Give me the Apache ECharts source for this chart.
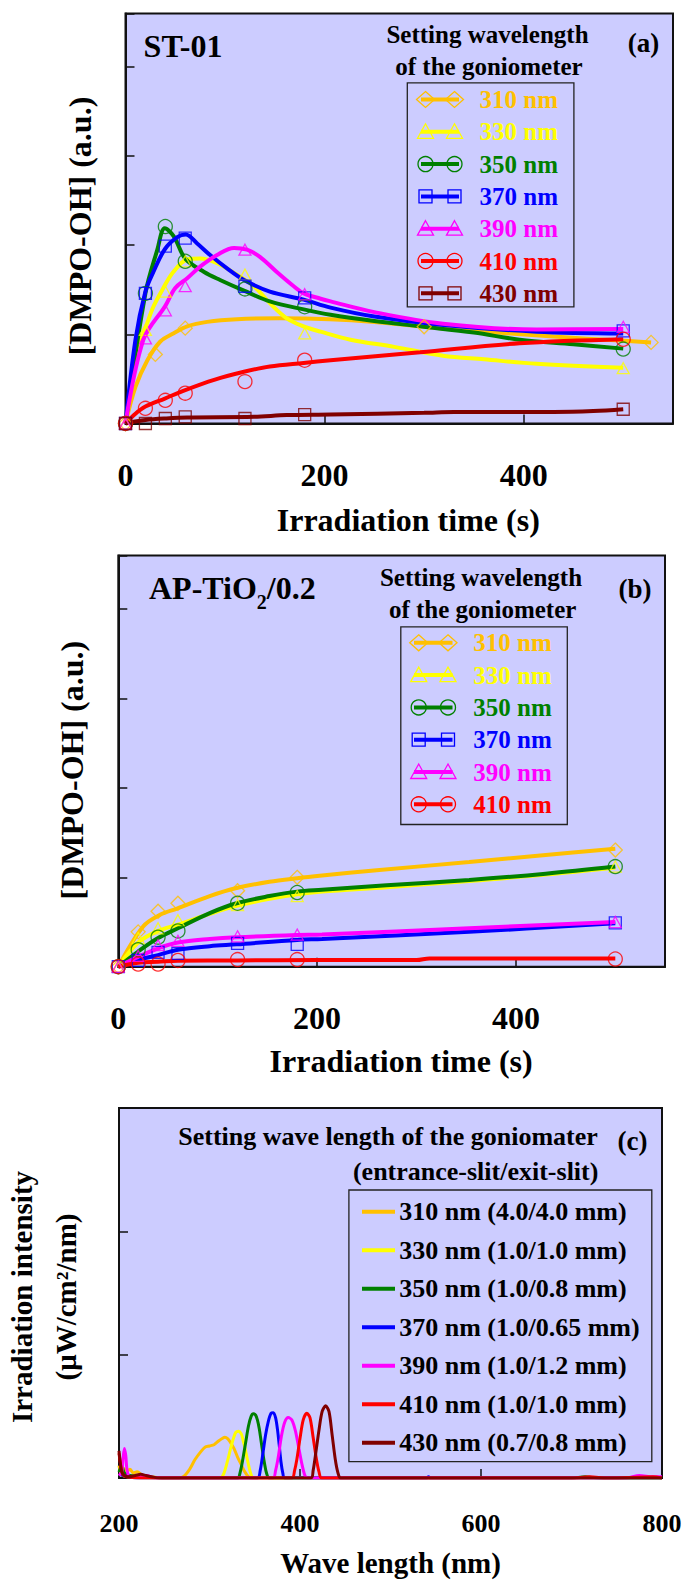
<!DOCTYPE html>
<html><head><meta charset="utf-8">
<script src="https://cdn.jsdelivr.net/npm/echarts@6/dist/echarts.min.js"></script>
<style>html,body{margin:0;padding:0;background:#fff}#c{width:683px;height:1580px}</style>
</head><body><div id="c"></div>
<script>
// ---------- labels ----------
const nmLabels = ['310 nm', '330 nm', '350 nm', '370 nm', '390 nm', '410 nm', '430 nm'];
const slitLabels = ['310 nm (4.0/4.0 mm)', '330 nm (1.0/1.0 mm)', '350 nm (1.0/0.8 mm)', '370 nm (1.0/0.65 mm)', '390 nm (1.0/1.2 mm)', '410 nm (1.0/1.0 mm)', '430 nm (0.7/0.8 mm)'];
const seriesColors = ['#FFC000', '#FFFF00', '#008000', '#0000FF', '#FF00FF', '#FF0000', '#800000'];
const seriesSymbols = ['diamond', 'triangle', 'circle', 'rect', 'triangle', 'circle', 'rect'];
const timeTicks = [0, 200, 400];
const waveTicks = [200, 400, 600, 800];

// ---------- (a) ST-01 : markers [time s, DMPO-OH a.u.] ----------
const a310Pts = [[0,0],[30,0.775],[60,1.07],[300,1.085],[528,0.91]];
const a330Pts = [[0,0],[20,1.05],[40,1.48],[60,1.82],[120,1.67],[180,1.01],[500,0.62]];
const a350Pts = [[0,0],[20,1.46],[40,2.21],[60,1.82],[120,1.51],[180,1.31],[500,0.835]];
const a370Pts = [[0,0],[20,1.46],[40,1.99],[60,2.08],[120,1.54],[180,1.41],[500,1.04]];
const a390Pts = [[0,0],[20,0.955],[40,1.27],[60,1.54],[120,1.95],[180,1.45],[500,1.085]];
const a410Pts = [[0,0],[20,0.17],[40,0.26],[60,0.34],[120,0.47],[180,0.71],[500,0.945]];
const a430Pts = [[0,0],[20,0],[40,0.056],[60,0.075],[120,0.056],[180,0.10],[500,0.16]];
// (a) fitted curves
const a310Fit = [[0,0],[10,0.41],[22,0.71],[35,0.92],[48,1.01],[62,1.09],[82,1.14],[112,1.17],[155,1.18],[205,1.17],[250,1.14],[300,1.085],[350,1.04],[430,0.975],[497,0.93],[528,0.91]];
const a330Fit = [[0,0],[12,0.82],[20,1.07],[28,1.31],[38,1.52],[48,1.70],[62,1.84],[75,1.85],[92,1.80],[109,1.69],[129,1.54],[145,1.35],[162,1.18],[179,1.09],[196,1.03],[226,0.94],[270,0.86],[319,0.76],[360,0.72],[413,0.67],[500,0.625]];
const a350Fit = [[0,0],[20,1.46],[32,1.95],[39.5,2.19],[48.5,2.10],[60,1.85],[79,1.70],[95,1.61],[119,1.49],[145,1.37],[179,1.28],[206,1.22],[250,1.15],[296,1.09],[350,1.02],[396,0.94],[450,0.89],[500,0.84]];
const a370Fit = [[0,0],[10,0.94],[20,1.48],[28,1.70],[39.5,1.955],[52,2.09],[60.5,2.12],[72,2.02],[85,1.89],[102,1.74],[119,1.61],[145,1.48],[179,1.39],[206,1.30],[250,1.20],[319,1.105],[413,1.03],[500,1.01]];
const a390Fit = [[0,0],[18,0.94],[40,1.32],[50,1.52],[62,1.63],[75,1.76],[92,1.89],[109,1.97],[122,1.95],[135,1.87],[152,1.70],[169,1.54],[179,1.46],[196,1.40],[206,1.37],[250,1.25],[319,1.12],[413,1.055],[500,1.06]];
const a410Fit = [[0,0],[10,0.11],[20,0.19],[39.5,0.28],[60,0.375],[89,0.49],[119,0.58],[145,0.64],[179,0.68],[206,0.71],[296,0.80],[396,0.90],[500,0.945]];
const a430Fit = [[0,0],[8,0.02],[20,0.04],[40,0.056],[62,0.067],[129,0.075],[162,0.094],[206,0.10],[300,0.12],[330,0.13],[430,0.13],[470,0.14],[500,0.16]];

// ---------- (b) AP-TiO2/0.2 : markers ----------
const b310Pts = [[0,0],[20,0.39],[40,0.62],[60,0.71],[120,0.85],[180,1.0],[500,1.305]];
const b330Pts = [[0,0],[20,0.32],[40,0.43],[60,0.52],[120,0.69],[180,0.79],[500,1.12]];
const b350Pts = [[0,0],[20,0.19],[40,0.33],[60,0.40],[120,0.71],[180,0.83],[500,1.12]];
const b370Pts = [[0,0],[20,0.07],[40,0.16],[60,0.15],[120,0.26],[180,0.25],[500,0.49]];
const b390Pts = [[0,0],[20,0.12],[40,0.24],[60,0.29],[120,0.34],[180,0.36],[500,0.50]];
const b410Pts = [[0,0],[20,0.03],[40,0.03],[60,0.07],[120,0.08],[180,0.08],[500,0.086]];
// (b) fitted curves
const b310Fit = [[0,0],[25,0.45],[42,0.58],[59,0.65],[92,0.79],[119,0.88],[152,0.95],[180,0.99],[205,1.02],[260,1.08],[353,1.17],[430,1.25],[500,1.32]];
const b330Fit = [[0,0],[20,0.27],[40,0.40],[60,0.47],[92,0.59],[119,0.68],[152,0.76],[180,0.81],[205,0.84],[270,0.89],[353,0.96],[430,1.03],[500,1.11]];
const b350Fit = [[0,0],[20,0.17],[40,0.32],[60,0.43],[92,0.60],[119,0.71],[152,0.79],[180,0.84],[205,0.86],[270,0.91],[353,0.97],[430,1.04],[500,1.12]];
const b370Fit = [[0,0],[20,0.075],[40,0.13],[60,0.19],[92,0.23],[119,0.25],[180,0.30],[205,0.31],[353,0.39],[500,0.485]];
const b390Fit = [[0,0],[20,0.11],[40,0.205],[60,0.27],[92,0.31],[119,0.33],[180,0.355],[205,0.36],[353,0.43],[500,0.50]];
const b410Fit = [[0,0],[20,0.045],[40,0.056],[60,0.067],[120,0.07],[200,0.075],[300,0.075],[313,0.093],[500,0.093]];

// ---------- (c) spectra [wavelength nm, intensity] ----------
const s310 = [[200,0.10],[202,0.04],[205,0.08],[208,0.05],[212,0.07],[216,0.04],[220,0.05],[226,0.02],[235,0.01],[250,0],[265,0],[271,0.01],[278,0.07],[284,0.15],[290,0.21],[295,0.25],[300,0.26],[305,0.27],[310,0.30],[314,0.32],[317,0.33],[320,0.32],[323,0.29],[327,0.24],[331,0.17],[335,0.11],[339,0.05],[343,0.01],[347,0],[500,0],[700,0],[800,0]];
const s330 = [[200,0.03],[210,0.01],[240,0],[312,0],[316,0.04],[320,0.14],[323,0.23],[326,0.31],[329,0.37],[332,0.38],[335,0.36],[337,0.31],[339,0.25],[341,0.18],[343,0.11],[345,0.05],[347,0.01],[350,0],[800,0]];
const s350 = [[200,0.05],[203,0.10],[206,0.04],[212,0.02],[230,0.01],[250,0],[331,0],[334,0.05],[337,0.16],[340,0.29],[343,0.42],[346,0.50],[348.5,0.52],[351,0.51],[353,0.47],[355,0.40],[357,0.30],[359,0.20],[361,0.11],[363,0.04],[366,0],[700,0],[715,0.01],[730,0],[800,0]];
const s370 = [[200,0.03],[220,0],[353,0],[356,0.06],[359,0.20],[362,0.35],[365,0.46],[368,0.525],[370.5,0.53],[373,0.49],[375,0.40],[377,0.27],[379,0.13],[381,0.04],[383,0],[540,0],[542,0.01],[544,0],[800,0]];
const s390 = [[200,0.02],[203,0.05],[204.5,0.16],[206,0.24],[207.5,0.18],[209,0.06],[212,0.01],[230,0.02],[240,0],[370,0],[373,0.06],[376,0.17],[379.5,0.34],[383,0.45],[387,0.49],[391,0.47],[395,0.38],[399,0.23],[402.5,0.10],[406,0.01],[409,0],[760,0],[775,0.02],[790,0.01],[800,0.01]];
const s410 = [[200,0.20],[202,0.10],[204,0.03],[208,0.01],[230,0],[391,0],[394,0.06],[396.5,0.15],[400,0.32],[403.5,0.47],[407.5,0.525],[411,0.49],[414.5,0.33],[418,0.16],[421,0.05],[424,0],[700,0],[720,0.01],[740,0],[790,0.01],[800,0]];
const s430 = [[200,0.22],[201.5,0.12],[203,0.05],[206,0.02],[210,0.01],[218,0.02],[224,0.03],[230,0.02],[236,0.01],[245,0],[412,0],[414.5,0.06],[417,0.18],[421,0.39],[424.5,0.54],[428.3,0.585],[432,0.54],[435.5,0.35],[439,0.15],[442,0.04],[445,0],[800,0]];

const aPts = [a310Pts, a330Pts, a350Pts, a370Pts, a390Pts, a410Pts, a430Pts];
const aFit = [a310Fit, a330Fit, a350Fit, a370Fit, a390Fit, a410Fit, a430Fit];
const bPts = [b310Pts, b330Pts, b350Pts, b370Pts, b390Pts, b410Pts];
const bFit = [b310Fit, b330Fit, b350Fit, b370Fit, b390Fit, b410Fit];
const spectra = [s310, s330, s350, s370, s390, s410, s430];

// ---------- styling ----------
const FF = '"Liberation Serif", "Times New Roman", serif';
const BG = '#CCCCFF';
const symSize = { diamond: [14, 14], triangle: [12, 11], circle: 14, rect: 12 };

function fontStr(size) { return 'bold ' + size + 'px ' + FF; }

function tStyle(txt, size, color, align) {
  return { text: txt, font: fontStr(size), fill: color || '#000', align: align || 'left', textAlign: align || 'left', verticalAlign: 'middle', textVerticalAlign: 'middle' };
}
function gText(txt, x, y, size, color, align) {
  return { type: 'text', x: x, y: y, z: 50, style: tStyle(txt, size, color, align) };
}
function markerShape(sym, cx, cy, color) {
  const st = { fill: 'none', stroke: color, lineWidth: 1.3 };
  if (sym === 'circle') return { type: 'circle', z: 52, shape: { cx: cx, cy: cy, r: 7.5 }, style: st };
  if (sym === 'rect') return { type: 'rect', z: 52, shape: { x: cx - 6.5, y: cy - 6.5, width: 13, height: 13 }, style: st };
  if (sym === 'triangle') return { type: 'polygon', z: 52, shape: { points: [[cx, cy - 8], [cx + 8, cy + 6.5], [cx - 8, cy + 6.5]] }, style: st };
  return { type: 'polygon', z: 52, shape: { points: [[cx, cy - 8], [cx + 9, cy], [cx, cy + 8], [cx - 9, cy]] }, style: st };
}
function legendBlock(cfg) {
  const els = [];
  els.push({ type: 'rect', z: 49, shape: { x: cfg.box[0], y: cfg.box[1], width: cfg.box[2] - cfg.box[0], height: cfg.box[3] - cfg.box[1] }, style: { fill: 'none', stroke: '#222', lineWidth: 1.3 } });
  for (let i = 0; i < cfg.n; i++) {
    const y = cfg.y0 + i * cfg.dy;
    const c = seriesColors[i];
    els.push({ type: 'line', z: 51, shape: { x1: cfg.line[0], y1: y, x2: cfg.line[1], y2: y }, style: { stroke: c, lineWidth: 4 } });
    if (cfg.marks) {
      els.push(markerShape(seriesSymbols[i], cfg.marks[0], y, c));
      els.push(markerShape(seriesSymbols[i], cfg.marks[1], y, c));
    }
    els.push(gText(cfg.labels[i], cfg.textX, y, cfg.fs, cfg.textColor || c, 'left'));
  }
  return els;
}

// ---------- axes ----------
function timeAxis(gi, gap, shift) {
  return {
    gridIndex: gi, type: 'value', min: 0, max: 550, interval: 200,
    axisLine: { show: true, onZero: false, lineStyle: { color: '#111', width: 2 } },
    axisTick: { show: true, inside: true, length: 9, lineStyle: { color: '#111', width: 1.5 } },
    axisLabel: { show: true, margin: 35, color: '#000', fontFamily: FF, fontWeight: 'bold', fontSize: 32,
      formatter: v => (timeTicks.indexOf(v) >= 0 ? String(v) : '') },
    splitLine: { show: false },
    name: 'Irradiation time (s)', nameLocation: 'middle', nameGap: gap,
    nameTextStyle: { color: '#000', fontFamily: FF, fontWeight: 'bold', fontSize: 32, padding: [0, 0, 0, shift] }
  };
}
function concAxis(gi, gap, shift) {
  return {
    gridIndex: gi, type: 'value', min: 0, max: 4.6, interval: 1,
    axisLine: { show: true, onZero: false, lineStyle: { color: '#111', width: 2 } },
    axisTick: { show: true, inside: true, length: 9, lineStyle: { color: '#111', width: 1.5 } },
    axisLabel: { show: false }, splitLine: { show: false },
    name: '[DMPO-OH] (a.u.)', nameLocation: 'middle', nameGap: gap, nameRotate: 90,
    nameTextStyle: { color: '#000', fontFamily: FF, fontWeight: 'bold', fontSize: 32, padding: [0, shift, 0, 0] }
  };
}

// ---------- series ----------
const series = [];
function addPanel(idx, fits, pts, count) {
  for (let i = 0; i < count; i++) {
    series.push({ type: 'line', name: nmLabels[i], xAxisIndex: idx, yAxisIndex: idx, data: fits[i],
      showSymbol: false, symbol: 'none', smooth: 0.35, clip: false, z: 2,
      lineStyle: { color: seriesColors[i], width: 4 }, itemStyle: { color: seriesColors[i] } });
    series.push({ type: 'scatter', name: nmLabels[i] + ' data', xAxisIndex: idx, yAxisIndex: idx, data: pts[i],
      symbol: seriesSymbols[i], symbolSize: symSize[seriesSymbols[i]], clip: false, z: 3,
      itemStyle: { color: 'rgba(0,0,0,0)', borderColor: seriesColors[i], borderWidth: 1.3 } });
  }
}
addPanel(0, aFit, aPts, 7);
addPanel(1, bFit, bPts, 6);
for (let i = 0; i < 7; i++) {
  series.push({ type: 'line', name: slitLabels[i], xAxisIndex: 2, yAxisIndex: 2, data: spectra[i],
    showSymbol: false, symbol: 'none', smooth: 0.3, clip: true, z: 2,
    lineStyle: { color: seriesColors[i], width: 3 }, itemStyle: { color: seriesColors[i] } });
}

// ---------- graphic (panel labels & legends) ----------
const graphic = [];
graphic.push(gText('ST-01', 143.6, 45.7, 32, '#000', 'left'));
graphic.push(gText('(a)', 643.5, 43, 27, '#000', 'center'));
graphic.push(gText('Setting wavelength', 487.5, 34, 25, '#000', 'center'));
graphic.push(gText('of the goniometer', 489, 66, 25, '#000', 'center'));
legendBlock({ box: [407.3, 82.8, 573.9, 306.9], n: 7, y0: 99.5, dy: 32.3, line: [421, 459], marks: [425.5, 454.5], textX: 479.5, fs: 25, labels: nmLabels }).forEach(e => graphic.push(e));

graphic.push({ type: 'text', x: 149, y: 584, z: 50, style: {
  text: '{a|AP-TiO}{s|2}{a|/0.2}', fill: '#000', align: 'left', textAlign: 'left', verticalAlign: 'middle', textVerticalAlign: 'middle',
  rich: { a: { font: fontStr(32), fill: '#000', verticalAlign: 'bottom', lineHeight: 40 },
          s: { font: fontStr(20), fill: '#000', verticalAlign: 'bottom', lineHeight: 40, padding: [0, 0, -8, 0] } } } });
graphic.push(gText('(b)', 635, 589, 27, '#000', 'center'));
graphic.push(gText('Setting wavelength', 481, 577, 25, '#000', 'center'));
graphic.push(gText('of the goniometer', 482.6, 609, 25, '#000', 'center'));
legendBlock({ box: [400.8, 626.9, 567.3, 824.5], n: 6, y0: 642.8, dy: 32.3, line: [414, 452.5], marks: [418.7, 448], textX: 473.3, fs: 25, labels: nmLabels }).forEach(e => graphic.push(e));

graphic.push(gText('(c)', 632.5, 1141, 27, '#000', 'center'));
graphic.push(gText('Setting wave length of the goniomater', 388, 1136.5, 26, '#000', 'center'));
graphic.push(gText('(entrance-slit/exit-slit)', 598.4, 1171.5, 26, '#000', 'right'));
legendBlock({ box: [348.9, 1190, 651.8, 1461.7], n: 7, y0: 1211.7, dy: 38.5, line: [362, 395], marks: null, textX: 399.2, fs: 26, labels: slitLabels, textColor: '#000' }).forEach(e => graphic.push(e));

// ---------- option ----------
const gridBase = { show: true, backgroundColor: BG, borderColor: '#111', borderWidth: 2, containLabel: false, outerBoundsMode: 'none' };
const option = {
  animation: false,
  backgroundColor: '#fff',
  grid: [
    Object.assign({ left: 125.5, top: 13.5, width: 547.5, height: 410 }, gridBase),
    Object.assign({ left: 118.3, top: 555.5, width: 546.7, height: 411.2 }, gridBase),
    Object.assign({ left: 119, top: 1108, width: 543, height: 370 }, gridBase)
  ],
  xAxis: [
    timeAxis(0, 80, 18),
    timeAxis(1, 78, 19),
    {
      gridIndex: 2, type: 'value', min: 200, max: 800, interval: 200,
      axisLine: { show: true, onZero: false, lineStyle: { color: '#111', width: 2 } },
      axisTick: { show: true, inside: true, length: 9, lineStyle: { color: '#111', width: 1.5 } },
      axisLabel: { show: true, margin: 32, color: '#000', fontFamily: FF, fontWeight: 'bold', fontSize: 26,
        formatter: v => (waveTicks.indexOf(v) >= 0 ? String(v) : '') },
      splitLine: { show: false },
      name: 'Wave length (nm)', nameLocation: 'middle', nameGap: 70,
      nameTextStyle: { color: '#000', fontFamily: FF, fontWeight: 'bold', fontSize: 29 }
    }
  ],
  yAxis: [
    concAxis(0, 30, 15),
    concAxis(1, 30, 18),
    {
      gridIndex: 2, type: 'value', min: 0, max: 3, interval: 1,
      axisLine: { show: true, onZero: false, lineStyle: { color: '#111', width: 2 } },
      axisTick: { show: true, inside: true, length: 9, lineStyle: { color: '#111', width: 1.5 } },
      axisLabel: { show: false }, splitLine: { show: false },
      name: 'Irradiation intensity\n(\u03bcW/cm\u00b2/nm)', nameLocation: 'middle', nameGap: 31, nameRotate: 90,
      nameTextStyle: { color: '#000', fontFamily: FF, fontWeight: 'bold', fontSize: 29, lineHeight: 44, align: 'center', padding: [0, 8, 0, 0] }
    }
  ],
  series: series,
  graphic: graphic
};
const chart = echarts.init(document.getElementById('c'), null, { renderer: 'svg', width: 683, height: 1580 });
chart.setOption(option);
</script>
</body></html>
